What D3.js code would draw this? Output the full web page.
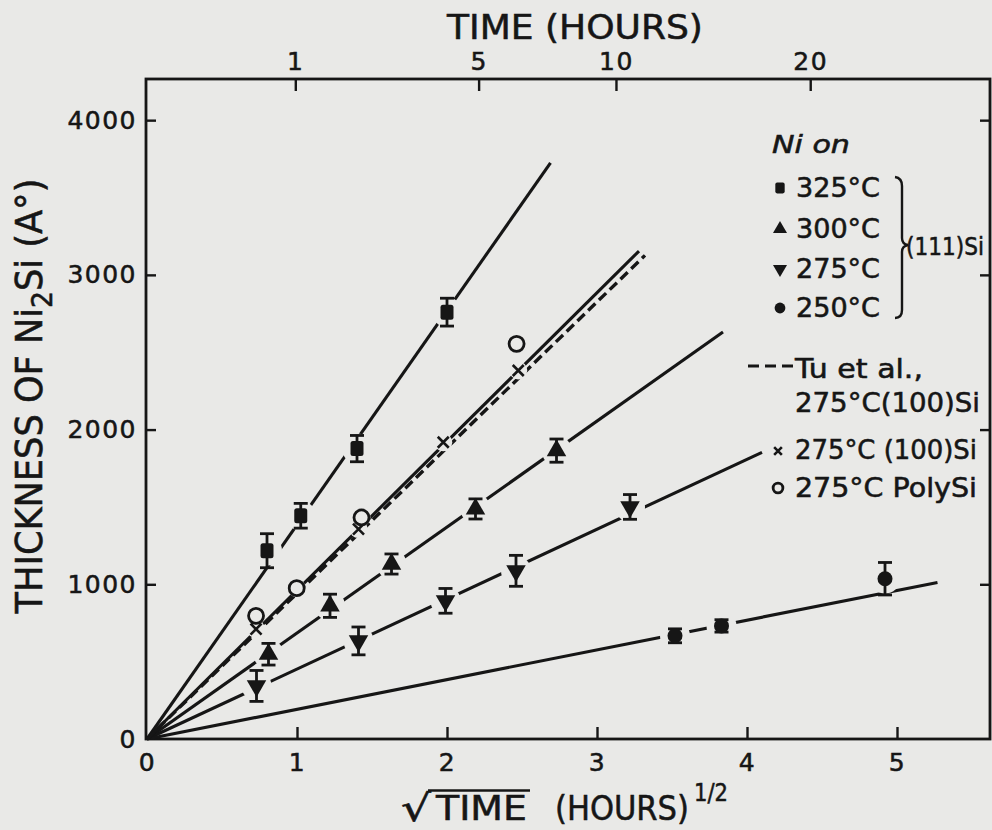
<!DOCTYPE html>
<html><head><meta charset="utf-8">
<script src="https://cdn.jsdelivr.net/npm/d3@7"></script>
<style>
html,body{margin:0;padding:0;background:#e9e9e7;}
svg{display:block;}
text{font-family:"DejaVu Sans",sans-serif;fill:#161616;stroke:#161616;stroke-width:0.55px;}
</style></head><body>
<svg id="c" width="992" height="830"></svg>
<script>
// ---------- data ----------
// x = sqrt(time) in hours^1/2, y = thickness of Ni2Si in Angstrom
const sqrtT325 = [0.80, 1.025, 1.40, 2.00];
const thick325 = [1217, 1443, 1877, 2759];
const err325   = [110, 80, 85, 90];

const sqrtT300 = [0.81, 1.22, 1.63, 2.19, 2.73];
const thick300 = [548, 861, 1131, 1487, 1864];
const err300   = [70, 75, 65, 65, 75];

const sqrtT275 = [0.73, 1.41, 1.99, 2.46, 3.22];
const thick275 = [343, 634, 893, 1087, 1500];
const err275   = [100, 90, 80, 100, 80];

const sqrtT250 = [3.52, 3.83, 4.92];
const thick250 = [667, 731, 1036];
const err250   = [45, 40, 105];

const sqrtT100 = [0.727, 1.41, 1.975, 2.475];
const thick100 = [710, 1357, 1918, 2382];

const sqrtTPoly = [0.727, 0.998, 1.43, 2.464];
const thickPoly = [796, 975, 1432, 2554];

// straight fit lines through the origin: end points
const fitNames = ["325", "300", "275", "250", "100Si", "Tu"];
const fitEndX  = [2.69, 3.84, 4.10, 5.27, 3.28, 3.32];
const fitEndY  = [3724, 2630, 1853, 1012, 3154, 3126];

const xTicks = [0, 1, 2, 3, 4, 5];
const yTicks = [0, 1000, 2000, 3000, 4000];
const timeTicks = [1, 5, 10, 20];

const legendLabels = ["325°C", "300°C", "275°C", "250°C"];

// ---------- drawing ----------
const INK = "#161616", BG = "#e9e9e7";
const svg = d3.select("#c");
const X0 = 147, X1 = 990, Y0 = 739, Y1 = 79;
const x = d3.scaleLinear().domain([0, 5.62]).range([X0, X1]);
const y = d3.scaleLinear().domain([0, 4266]).range([Y0, Y1]);
// top axis is a square-root time scale (as printed, slightly compressed)
const xTime = d3.scalePow().exponent(0.5).domain([0, 5.62 * 5.62]).range([X0, X0 + 148.3 * 5.62]);

svg.append("rect").attr("width", 992).attr("height", 830).attr("fill", BG);

// text drawn at a font size, squeezed horizontally to a target width
function fitText(parent, str, px, py, fs, width, opts = {}) {
  const t = parent.append("text").style("font-size", fs + "px").text(str);
  if (opts.italic) t.style("font-style", "italic");
  if (opts.anchor) t.attr("text-anchor", opts.anchor);
  const natural = t.node().getComputedTextLength();
  const sx = width / natural;
  t.attr("transform", `translate(${px},${py})${opts.rotate ? ` rotate(${opts.rotate})` : ""} scale(${sx},1)`);
  return t;
}

function styleAxis(g, fs) {
  g.select(".domain").remove();
  g.selectAll(".tick line").attr("stroke", INK).attr("stroke-width", 2.4);
  g.selectAll(".tick text").attr("fill", INK).style("font-size", fs + "px")
    .style("font-family", '"DejaVu Sans",sans-serif').attr("letter-spacing", 1.5);
}

const gB = svg.append("g").attr("transform", `translate(0,${Y0})`)
  .call(d3.axisBottom(x).tickValues(xTicks).tickSize(-12).tickPadding(14).tickFormat(d3.format("d")));
styleAxis(gB, 25);
gB.selectAll(".tick").filter(d => d === 0).select("line").remove();

const gL = svg.append("g").attr("transform", `translate(${X0 - 1},0)`)
  .call(d3.axisLeft(y).tickValues(yTicks).tickSize(-10).tickPadding(9).tickFormat(d3.format("d")));
styleAxis(gL, 25);
gL.selectAll(".tick").filter(d => d === 0).select("line").remove();

const gR = svg.append("g").attr("transform", `translate(${X1},0)`)
  .call(d3.axisRight(y).tickValues(yTicks.slice(1)).tickSize(-10).tickFormat(""));
styleAxis(gR, 25);

const gT = svg.append("g").attr("transform", `translate(0,${Y1})`)
  .call(d3.axisTop(xTime).tickValues(timeTicks).tickSize(-12).tickPadding(9).tickFormat(d3.format("d")));
styleAxis(gT, 25);

// frame
svg.append("rect").attr("x", X0 - 1).attr("y", Y1).attr("width", X1 - X0 + 1).attr("height", Y0 - Y1)
  .attr("fill", "none").attr("stroke", INK).attr("stroke-width", 2.8);

// fit lines
const fitStyle = { "Tu": "10,5" };
fitNames.forEach((n, i) => {
  svg.append("line")
    .attr("x1", x(0)).attr("y1", y(0))
    .attr("x2", x(fitEndX[i])).attr("y2", y(fitEndY[i]))
    .attr("stroke", INK).attr("stroke-width", n === "Tu" ? 3.4 : 3.1)
    .attr("stroke-dasharray", fitStyle[n] || null);
});

// series
const series = [
  { xs: sqrtT325, ys: thick325, es: err325, shape: "square" },
  { xs: sqrtT300, ys: thick300, es: err300, shape: "up" },
  { xs: sqrtT275, ys: thick275, es: err275, shape: "down" },
  { xs: sqrtT250, ys: thick250, es: err250, shape: "dot" },
  { xs: sqrtT100, ys: thick100, es: null, shape: "x" },
  { xs: sqrtTPoly, ys: thickPoly, es: null, shape: "ring" }
];

// halos (gaps in the lines around the markers)
const halo = svg.append("g");
series.forEach(s => {
  s.xs.forEach((v, i) => {
    halo.append("circle").attr("cx", x(v)).attr("cy", y(s.ys[i]))
      .attr("r", s.es ? 15 : 9).attr("fill", BG);
  });
});

function marker(g, shape, cx, cy, k) {
  if (shape === "square") {
    g.append("rect").attr("x", cx - 6.5 * k).attr("y", cy - 7.5 * k).attr("width", 13 * k).attr("height", 15 * k)
      .attr("rx", 2.5 * k).attr("fill", INK);
  } else if (shape === "up" || shape === "down") {
    const t = d3.symbol().type(d3.symbolTriangle).size(165 * k * k)();
    g.append("path").attr("d", t).attr("fill", INK)
      .attr("transform", `translate(${cx},${cy}) rotate(${shape === "down" ? 180 : 0})`);
  } else if (shape === "dot") {
    g.append("circle").attr("cx", cx).attr("cy", cy).attr("r", 7.5 * k).attr("fill", INK);
  } else if (shape === "x") {
    const a = 5.5 * k;
    g.append("path").attr("d", `M${cx - a},${cy - a}L${cx + a},${cy + a}M${cx - a},${cy + a}L${cx + a},${cy - a}`)
      .attr("stroke", INK).attr("stroke-width", 2.6).attr("fill", "none");
  } else if (shape === "ring") {
    g.append("circle").attr("cx", cx).attr("cy", cy).attr("r", 7.5 * k).attr("fill", BG)
      .attr("stroke", INK).attr("stroke-width", 2.8);
  }
}

const gm = svg.append("g");
series.forEach(s => {
  s.xs.forEach((v, i) => {
    const cx = x(v), cy = y(s.ys[i]);
    if (s.es) {
      const t = y(s.ys[i] + s.es[i]), b = y(s.ys[i] - s.es[i]);
      gm.append("line").attr("x1", cx).attr("x2", cx).attr("y1", t).attr("y2", b)
        .attr("stroke", INK).attr("stroke-width", 2.8);
      [t, b].forEach(yy => gm.append("line").attr("x1", cx - 7).attr("x2", cx + 7)
        .attr("y1", yy).attr("y2", yy).attr("stroke", INK).attr("stroke-width", 2.8));
    }
    marker(gm, s.shape, cx, cy, 1);
  });
});

// ---------- titles ----------
fitText(svg, "TIME (HOURS)", 447, 39, 34, 256);

fitText(svg, "√", 401, 821, 37, 30);
svg.append("line").attr("x1", 428).attr("x2", 530).attr("y1", 790.5).attr("y2", 790.5)
  .attr("stroke", INK).attr("stroke-width", 2.6);
fitText(svg, "TIME", 436, 820, 34, 91);
fitText(svg, "(HOURS)", 555, 820, 34, 134);
fitText(svg, "1/2", 694, 801, 24, 34);

const yt = svg.append("text").attr("text-anchor", "middle").style("font-size", "37px");
yt.append("tspan").text("THICKNESS OF Ni");
yt.append("tspan").attr("dy", 10).style("font-size", "28px").text("2");
yt.append("tspan").attr("dy", -10).text("Si (A°)");
{
  const nat = yt.node().getComputedTextLength();
  yt.attr("transform", `translate(42,396) rotate(-90) scale(${435 / nat},1)`);
}

// ---------- legend ----------
const lg = svg.append("g");
fitText(lg, "Ni on", 772, 153, 24, 78, { italic: true });
const legShapes = ["square", "up", "down", "dot"];
const legY = [197, 238, 278, 317];
legShapes.forEach((sh, i) => {
  marker(lg, sh, 780, legY[i] - 9, 0.72);
  fitText(lg, legendLabels[i], 796, legY[i], 26, 84);
});
lg.append("path").attr("d", "M895,177 Q902,178 902,186 L902,238 Q902,244 908,245 Q902,246 902,252 L902,310 Q902,318 895,318")
  .attr("fill", "none").attr("stroke", INK).attr("stroke-width", 2.4);
fitText(lg, "(111)Si", 906, 255, 25, 78);

lg.append("line").attr("x1", 748).attr("x2", 793).attr("y1", 366).attr("y2", 366)
  .attr("stroke", INK).attr("stroke-width", 2.8).attr("stroke-dasharray", "11,6");
fitText(lg, "Tu et al.,", 795, 378, 26, 128);
fitText(lg, "275°C(100)Si", 795, 412, 26, 185);

marker(lg, "x", 778, 451, 0.7);
fitText(lg, "275°C (100)Si", 795, 459, 26, 182);
marker(lg, "ring", 778, 488, 0.65);
fitText(lg, "275°C PolySi", 795, 497, 26, 182);
</script>
</body></html>
